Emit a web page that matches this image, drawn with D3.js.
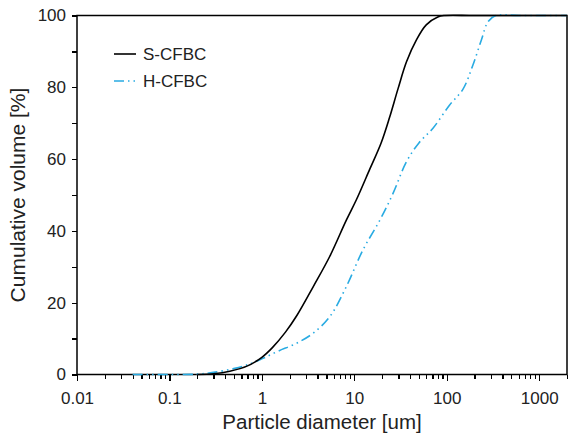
<!DOCTYPE html>
<html lang="en">
<head>
    <meta charset="UTF-8" />
    <title>Particle size distribution</title>
    <script src="https://d3js.org/d3.v7.min.js"></script>
    <style>
        body { margin: 0; background: #fff; }
        svg { font-family: "Liberation Sans", Arial, sans-serif; }
        .axis path, .axis line { stroke: #000; stroke-width: 1.3; shape-rendering: crispEdges; }
        .axis text { font-size: 17px; fill: #222; }
    </style>
</head>
<body>
<script>
    var w = 569, h = 435;
    var margin = {top: 15.5, right: 2, bottom: 60.5, left: 77};

    // S-CFBC: diameter [um], cumulative volume [%]
    var sDiam = [0.2, 0.3, 0.45, 0.7, 1, 1.3, 1.8, 2.4, 3.6, 5.4, 8.2, 10.5, 14.7, 19.5, 24, 29.8, 36.7, 47, 60, 80, 95, 200, 2000];
    var sVol  = [0, 0.2, 0.9, 2.4, 4.8, 7.5, 11.8, 16.5, 24.5, 32.8, 43, 48.6, 57.2, 64.5, 71.5, 79.7, 87.1, 93.2, 97.4, 99.6, 100, 100, 100];

    // H-CFBC
    var hDiam = [0.04, 0.1, 0.2, 0.3, 0.51, 0.75, 1.03, 1.5, 2.37, 3.59, 5.43, 8.2, 12.4, 18.9, 26.3, 36.7, 50, 71, 107, 150, 192, 237, 280, 340, 600, 2000];
    var hVol  = [0, 0, 0.1, 0.6, 1.7, 3.0, 4.5, 6.5, 8.7, 11.5, 16.1, 24.5, 34.7, 43, 50.5, 59.3, 64.5, 68.6, 75, 79.5, 86.2, 93.2, 98.3, 100, 100, 100];

    var xTicks = [0.01, 0.1, 1, 10, 100, 1000];
    var yTicks = [0, 20, 40, 60, 80, 100];

    var svg = d3.select("body").append("svg")
        .attr("width", w).attr("height", h);

    var xScale = d3.scaleLog().domain([0.01, 2000]).range([margin.left, w - margin.right]);
    var yScale = d3.scaleLinear().domain([0, 100]).range([h - margin.bottom, margin.top]);

    // minor ticks
    var xMinor = [];
    for (var e = -2; e <= 3; e++) {
        for (var k = 2; k <= 9; k++) {
            var v = k * Math.pow(10, e);
            if (v <= 2000) xMinor.push(v);
        }
    }
    var yMinor = [10, 30, 50, 70, 90];

    svg.append("g").attr("class", "axis")
        .attr("transform", "translate(0," + yScale(0) + ")")
        .call(d3.axisBottom(xScale).tickValues(xMinor).tickSize(4).tickFormat(""));
    svg.append("g").attr("class", "axis")
        .attr("transform", "translate(0," + yScale(0) + ")")
        .call(d3.axisBottom(xScale).tickValues(xTicks).tickSize(6).tickPadding(11)
            .tickFormat(function(d) { return String(d); }));

    svg.append("g").attr("class", "axis")
        .attr("transform", "translate(" + xScale(0.01) + ",0)")
        .call(d3.axisLeft(yScale).tickValues(yMinor).tickSize(5).tickFormat(""));
    svg.append("g").attr("class", "axis")
        .attr("transform", "translate(" + xScale(0.01) + ",0)")
        .call(d3.axisLeft(yScale).tickValues(yTicks).tickSize(5).tickPadding(6));

    svg.selectAll(".axis .domain").remove();

    // frame
    svg.append("rect")
        .attr("x", xScale(0.01)).attr("y", yScale(100))
        .attr("width", xScale(2000) - xScale(0.01))
        .attr("height", yScale(0) - yScale(100))
        .attr("fill", "none").attr("stroke", "#000").attr("stroke-width", 1.5);

    var sData = sDiam.map(function(d, i) { return [d, sVol[i]]; });
    var hData = hDiam.map(function(d, i) { return [d, hVol[i]]; });

    var line = d3.line()
        .x(function(d) { return xScale(d[0]); })
        .y(function(d) { return yScale(d[1]); })
        .curve(d3.curveCatmullRom.alpha(0.5));

    svg.append("path").datum(hData)
        .attr("d", line)
        .attr("fill", "none")
        .attr("stroke", "#29abe2")
        .attr("stroke-width", 1.6)
        .attr("stroke-dasharray", "10,4,1.5,4,1.5,4");

    svg.append("path").datum(sData)
        .attr("d", line)
        .attr("fill", "none")
        .attr("stroke", "#000")
        .attr("stroke-width", 1.6);

    // legend
    var legend = [
        {name: "S-CFBC", color: "#000", dash: null, y: 54},
        {name: "H-CFBC", color: "#29abe2", dash: "10,4,1.5,4,1.5,4", y: 81}
    ];
    legend.forEach(function(l) {
        svg.append("line")
            .attr("x1", 114).attr("x2", 136)
            .attr("y1", l.y).attr("y2", l.y)
            .attr("stroke", l.color).attr("stroke-width", 1.6)
            .attr("stroke-dasharray", l.dash);
        svg.append("text")
            .attr("x", 143).attr("y", l.y + 6)
            .attr("font-size", 17).attr("fill", "#222")
            .text(l.name);
    });

    // axis titles
    svg.append("text")
        .attr("x", (xScale(0.01) + xScale(2000)) / 2).attr("y", 429)
        .attr("text-anchor", "middle")
        .attr("font-size", 20.5).attr("fill", "#222")
        .text("Particle diameter  [um]");

    svg.append("text")
        .attr("transform", "translate(25," + yScale(50) + ") rotate(-90)")
        .attr("text-anchor", "middle")
        .attr("font-size", 21).attr("fill", "#222")
        .text("Cumulative volume  [%]");
</script>
</body>
</html>
